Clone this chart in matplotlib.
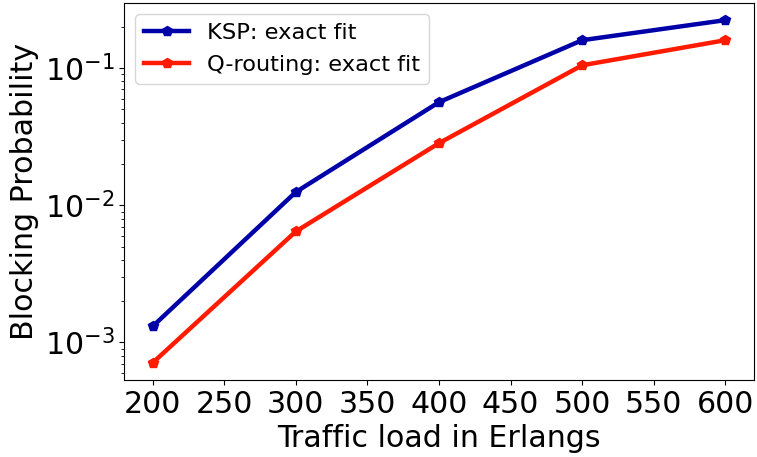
import matplotlib
matplotlib.use("Agg")
import matplotlib.pyplot as plt

loads = [200, 300, 400, 500, 600]
ksp_exact = [1.31e-3, 1.25e-2, 5.65e-2, 0.160, 0.224]
qrouting_exact = [7.1e-4, 6.45e-3, 2.84e-2, 0.105, 0.160]

fig = plt.figure(figsize=(7.57, 4.57), dpi=100)
ax = fig.add_axes([0.1638, 0.1685, 0.8322, 0.8249])

ax.plot(loads, ksp_exact, color="#0000a8", marker="p", markersize=7.5,
        linewidth=3.2, label="KSP: exact fit")
ax.plot(loads, qrouting_exact, color="#ff1a00", marker="p", markersize=7.5,
        linewidth=3.2, label="Q-routing: exact fit")

ax.set_yscale("log")
ax.set_xticks([200, 250, 300, 350, 400, 450, 500, 550, 600])
ax.tick_params(axis="both", labelsize=21.6)
ax.set_xlabel("Traffic load in Erlangs", fontsize=21.6)
ax.set_ylabel("Blocking Probability", fontsize=21.6)
ax.legend(loc="upper left", fontsize=16.2)

fig.savefig("out.png", dpi=100)
